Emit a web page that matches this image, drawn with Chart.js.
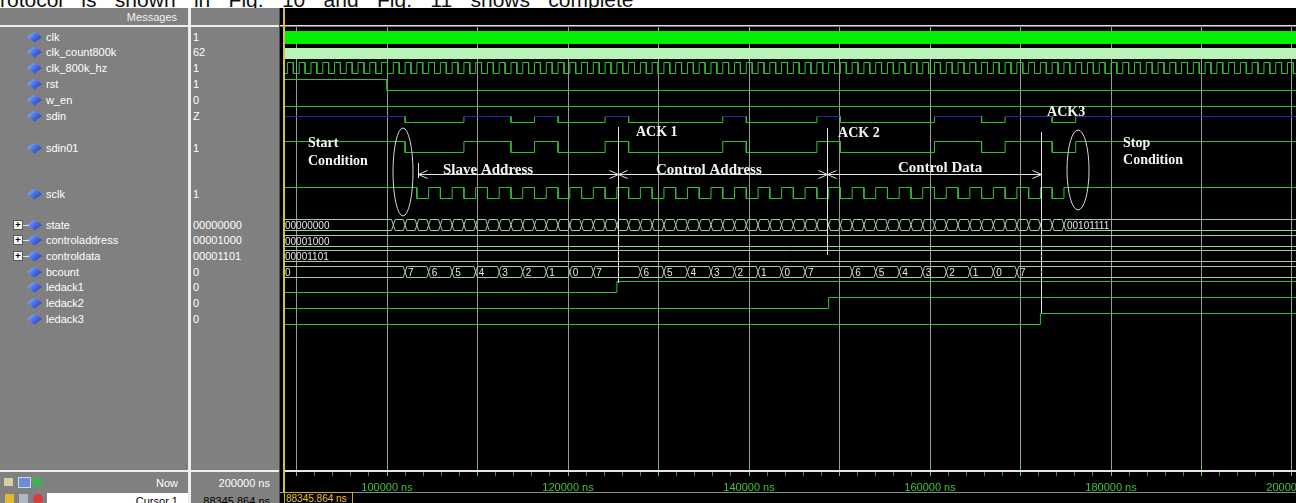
<!DOCTYPE html>
<html>
<head>
<meta charset="utf-8">
<title>I2C write waveform</title>
<script src="https://cdn.jsdelivr.net/npm/chart.js@4.4.1/dist/chart.umd.min.js"></script>
<style>
  html, body { margin: 0; padding: 0; }
  body { width: 1296px; height: 503px; position: relative; overflow: hidden; background: #fff;
         font-family: 'Liberation Sans', Arial, sans-serif; }
  .abs { position: absolute; }
  #caption { left: 0; top: -11px; font-size: 21px; line-height: 21px; word-spacing: 12.5px; color: #111; white-space: nowrap; }
  #names { left: 0; top: 8px; width: 188px; height: 495px; background: #808080; }
  #div1 { left: 188px; top: 8px; width: 3px; height: 495px; background: #eeeeee; }
  #values { left: 191px; top: 8px; width: 88px; height: 495px; background: #808080; }
  #div2 { left: 279px; top: 8px; width: 1px; height: 495px; background: #505050; }
  #wave { left: 280px; top: 8px; width: 1016px; height: 495px; background: #000; }
  #c { position: absolute; left: 285px; top: 27px; }
  .txt { position: absolute; font-size: 11px; line-height: 14px; color: #fff; white-space: nowrap; }
  .diamond { position: absolute; width: 15px; height: 11px;
             clip-path: polygon(50% 0, 100% 50%, 50% 100%, 0 50%);
             background: linear-gradient(135deg, #a8c4ff 0%, #4a72e8 45%, #1a34a8 100%); }
  .plus { position: absolute; width: 8px; height: 8px; background: #f4f4f4; border: 1px solid #5a5a5a;
          font-size: 9px; line-height: 8px; text-align: center; color: #000; font-weight: bold; }
  .stub { position: absolute; width: 6px; height: 1px; background: #dcdcdc; }
</style>
</head>
<body>
<div id="caption" class="abs">rotocol is shown in Fig. 10 and Fig. 11 shows complete</div>
<div id="names" class="abs"></div>
<div id="div1" class="abs"></div>
<div id="values" class="abs"></div>
<div id="div2" class="abs"></div>
<div id="wave" class="abs"></div>
<div id="chrome"></div>
<canvas id="c" width="1011" height="466"></canvas>
<script>
// ---- data (times in ns) ----
const timeMin = 88729;
const timeMax = 200442;
const nowTime = '200000 ns';
const cursorTime = '88345.864 ns';
const labelTicks = [100000, 120000, 140000, 160000, 180000, 200000];
const gridStep = 10000;
const minorStep = 2000;

const signalNames = ['clk', 'clk_count800k', 'clk_800k_hz', 'rst', 'w_en', 'sdin', 'sdin01', 'sclk',
  'state', 'controladdress', 'controldata', 'bcount', 'ledack1', 'ledack2', 'ledack3'];
const cursorValues = ['1', '62', '1', '1', '0', 'Z', '1', '1',
  '00000000', '00001000', '00001101', '0', '0', '0', '0'];
const expandable = ['state', 'controladdress', 'controldata'];

// clk_800k_hz, one character per half period
const clk800kStart = 88350;
const clk800kStep = 650;
const clk800kLevels =
  '01010101010101010101' + '01010101010101010101' + '01010101010101010101' + '01010101010101010101' +
  '01010101010101010101' + '01010101010101010101' + '01010101010101010101' + '01010101010101010101' +
  '01010101010101';

// sclk, idle high, then one character per half period
const sclkStart = 103300;
const sclkStep = 1300;
const sclkLevels = '01010101010101010101' + '01010101010101010101' + '0101010101010101';

// [time, level]; 'z' = high impedance
const rstEdges = [[88000, 1], [100000, 0]];
const wenEdges = [[88000, 0]];
const sdinEdges = [[88000, 'z'], [102000, 0], [108500, 'z'], [113700, 0], [116300, 'z'], [118900, 0],
  [124100, 'z'], [126700, 0], [137100, 'z'], [139700, 0], [147500, 'z'], [150100, 0],
  [160500, 'z'], [165700, 0], [168300, 'z'], [173500, 0], [176100, 'z']];
const sdin01Edges = [[88000, 1], [102000, 0], [108500, 1], [113700, 0], [116300, 1], [118900, 0],
  [124100, 1], [126700, 0], [137100, 1], [139700, 0], [147500, 1], [150100, 0],
  [160500, 1], [165700, 0], [168300, 1], [173500, 0], [176100, 1]];
const ledack1Edges = [[88000, 0], [125400, 1]];
const ledack2Edges = [[88000, 0], [148800, 1]];
const ledack3Edges = [[88000, 0], [172200, 1]];

const stateTimes = [100700, 102000, 103300, 104600, 105900, 107200, 108500, 109800, 111100, 112400,
  113700, 115000, 116300, 117600, 118900, 120200, 121500, 122800, 124100, 125400, 126700, 128000,
  129300, 130600, 131900, 133200, 134500, 135800, 137100, 138400, 139700, 141000, 142300, 143600,
  144900, 146200, 147500, 148800, 150100, 151400, 152700, 154000, 155300, 156600, 157900, 159200,
  160500, 161800, 163100, 164400, 165700, 167000, 168300, 169600, 170900, 172200, 173500, 174800];
const stateFirst = '00000000';
const stateLast = '00101111';
const controlAddress = '00001000';
const controlData = '00001101';
const bcountEdges = [[88000, '0'], [102000, '7'], [104600, '6'], [107200, '5'], [109800, '4'],
  [112400, '3'], [115000, '2'], [117600, '1'], [120200, '0'], [122800, '7'], [128000, '6'],
  [130600, '5'], [133200, '4'], [135800, '3'], [138400, '2'], [141000, '1'], [143600, '0'],
  [146200, '7'], [151400, '6'], [154000, '5'], [156600, '4'], [159200, '3'], [161800, '2'],
  [164400, '1'], [167000, '0'], [169600, '7']];

const ackTimes = [125500, 148600, 172300];
const fieldNames = ['Slave Address', 'Control Address', 'Control Data'];
const fieldStarts = [103400, 125500, 148600];
const fieldEnds = [125500, 148600, 172300];

// ---- layout (image pixel rows; the y scale runs in image pixels) ----
const rowY = [37.5, 53.5, 68, 85, 101, 117, 147, 193, 225, 241, 256, 272, 287, 303, 319];
const nameY = [37, 52, 68, 84, 100, 116, 148, 194, 225, 240, 256, 272, 287, 303, 319];
const HALF = 5.5;
const CROSS = 200;
const GREEN = '#33c133';
const BUS = '#a4cca4';
const ZBLUE = '#2424b0';
const ackSpans = [[127, 283], [128, 255], [132, 313]];
const arrowY = 174.5;
const ellipses = [{t: 101768, y: 172, rx: 10, ry: 44}, {t: 176356, y: 170, rx: 11, ry: 40}];
const notes = [
  ['Start', 91270, 143], ['Condition', 91270, 161],
  ['ACK 1', 127515, 132], ['ACK 2', 149836, 133], ['ACK3', 172930, 112],
  ['Stop', 181330, 143], ['Condition', 181330, 160]
];
const fieldTextX = [106190, 129725, 156466];
const fieldTextY = [170, 170, 168];

// ---- panel text ----
const chrome = document.getElementById('chrome');
function put(html, css, cls) {
  const d = document.createElement('div');
  d.className = cls || 'txt';
  d.innerHTML = html;
  Object.assign(d.style, css);
  chrome.appendChild(d);
  return d;
}
put('Messages', {left: '0px', width: '177px', textAlign: 'right', top: '10px', color: '#f2f2f2'});
put('', {left: '0px', top: '25px', width: '279px', height: '2px', background: '#eeeeee'}, 'abs');
put('', {left: '280px', top: '25px', width: '1016px', height: '1px', background: '#e0e0e0'}, 'abs');
put('', {left: '280px', top: '26px', width: '1016px', height: '1px', background: '#707070'}, 'abs');
signalNames.forEach((name, i) => {
  const y = nameY[i];
  put('', {left: '27px', top: (y - 5.5) + 'px'}, 'diamond');
  if (expandable.includes(name)) {
    put('+', {left: '13px', top: (y - 5) + 'px'}, 'plus');
    put('', {left: '23px', top: y + 'px'}, 'stub');
  }
  put(name, {left: '46px', top: (y - 7) + 'px'});
  put(cursorValues[i], {left: '193px', top: (y - 7) + 'px'});
});
// bottom rows
put('', {left: '0px', top: '470px', width: '279px', height: '2px', background: '#eeeeee'}, 'abs');
put('', {left: '280px', top: '492px', width: '1016px', height: '1px', background: '#8a8a8a'}, 'abs');
put('Now', {left: '0px', width: '178px', textAlign: 'right', top: '476px'});
put(nowTime, {left: '191px', width: '79px', textAlign: 'right', top: '476px'});
put('', {left: '47px', top: '493px', width: '141px', height: '10px', background: '#ffffff'}, 'abs');
put('Cursor 1', {left: '0px', width: '178px', textAlign: 'right', top: '494px', color: '#000'});
put(cursorTime, {left: '191px', width: '79px', textAlign: 'right', top: '494px', color: '#000'});
put('', {left: '4px', top: '478px', width: '9px', height: '8px', background: '#d8d0a0'}, 'abs');
put('', {left: '18px', top: '477px', width: '11px', height: '9px', background: '#6a8ed8', border: '1px solid #c8d8f8'}, 'abs');
put('', {left: '32px', top: '477px', width: '10px', height: '10px', background: '#3cb44c', borderRadius: '50%'}, 'abs');
put('', {left: '5px', top: '494px', width: '9px', height: '9px', background: '#e0b830'}, 'abs');
put('', {left: '19px', top: '494px', width: '9px', height: '9px', background: '#b0b8c8'}, 'abs');
put('', {left: '33px', top: '494px', width: '10px', height: '10px', background: '#e03a3a', borderRadius: '50%'}, 'abs');
// cursor
put('', {left: '283px', top: '8px', width: '2px', height: '485px', background: '#d8c048'}, 'abs');
put(cursorTime, {left: '284px', top: '492px', width: '66px', height: '11px', fontSize: '10px', lineHeight: '11px',
  color: '#e8c040', border: '1px solid #c8a838', paddingLeft: '1px'});

// ---- build datasets ----
function levelEdges(start, step, levels, idle) {
  const edges = [[88000, idle]];
  let last = idle;
  for (let i = 0; i < levels.length; i++) {
    const v = +levels[i];
    if (v !== last) { edges.push([start + i * step, v]); last = v; }
  }
  return edges;
}
function levelY(v, row) {
  if (v === 'z') return row - 0.5;
  return v ? row - HALF : row + HALF;
}
function logicPoints(edges, row) {
  const pts = [];
  edges.forEach(([t, v], i) => {
    if (i > 0) pts.push({x: t, y: levelY(edges[i - 1][1], row)});
    pts.push({x: t, y: levelY(v, row)});
  });
  pts.push({x: timeMax + 1000, y: levelY(edges[edges.length - 1][1], row)});
  return pts;
}
function busLines(times, row) {
  let ya = row - HALF, yb = row + HALF;
  const a = [{x: 88000, y: ya}], b = [{x: 88000, y: yb}];
  times.forEach(t => {
    a.push({x: t - CROSS, y: ya}, {x: t + CROSS, y: yb});
    b.push({x: t - CROSS, y: yb}, {x: t + CROSS, y: ya});
    [ya, yb] = [yb, ya];
  });
  a.push({x: timeMax + 1000, y: ya});
  b.push({x: timeMax + 1000, y: yb});
  return [a, b];
}
const row = name => rowY[signalNames.indexOf(name)];

const datasets = [];
function addLine(data, color, width, extra) {
  datasets.push(Object.assign({data, borderColor: color, borderWidth: width || 1}, extra || {}));
}
addLine([{x: timeMin, y: row('clk')}, {x: timeMax, y: row('clk')}], '#00f000', 13);
addLine([{x: timeMin, y: row('clk_count800k')}, {x: timeMax, y: row('clk_count800k')}], '#b8f4b8', 11);
addLine(logicPoints(levelEdges(clk800kStart, clk800kStep, clk800kLevels, 0), row('clk_800k_hz')), GREEN);
addLine(logicPoints(rstEdges, row('rst')), GREEN);
addLine(logicPoints(wenEdges, row('w_en')), GREEN);
const zY = row('sdin') - 0.5;
addLine(logicPoints(sdinEdges, row('sdin')), GREEN, 1, {
  segment: {borderColor: c => (c.p0.parsed.y === zY && c.p1.parsed.y === zY) ? ZBLUE : GREEN}
});
addLine(logicPoints(sdin01Edges, row('sdin01')), GREEN);
addLine(logicPoints(levelEdges(sclkStart, sclkStep, sclkLevels, 1), row('sclk')), GREEN);
busLines(stateTimes, row('state')).forEach(d => addLine(d, BUS));
busLines([], row('controladdress')).forEach(d => addLine(d, BUS));
busLines([], row('controldata')).forEach(d => addLine(d, BUS));
busLines(bcountEdges.slice(1).map(e => e[0]), row('bcount')).forEach(d => addLine(d, BUS));
addLine(logicPoints(ledack1Edges, row('ledack1')), GREEN);
addLine(logicPoints(ledack2Edges, row('ledack2')), GREEN);
addLine(logicPoints(ledack3Edges, row('ledack3')), GREEN);

const busLabels = [
  {row: row('state'), items: [[timeMin, stateFirst], [stateTimes[stateTimes.length - 1], stateLast]]},
  {row: row('controladdress'), items: [[timeMin, controlAddress]]},
  {row: row('controldata'), items: [[timeMin, controlData]]},
  {row: row('bcount'), items: bcountEdges.map(([t, v], i) => [i === 0 ? timeMin : t, v])}
];

const busText = {
  id: 'busText',
  afterDatasetsDraw(chart) {
    const {ctx, chartArea: a, scales: {x, y}} = chart;
    ctx.save();
    ctx.beginPath();
    ctx.rect(a.left, a.top, a.right - a.left, a.bottom - a.top);
    ctx.clip();
    ctx.font = '10px "Liberation Sans", Arial, sans-serif';
    ctx.fillStyle = '#e6e6e6';
    ctx.textBaseline = 'middle';
    busLabels.forEach(({row, items}) => {
      items.forEach(([t, text]) => {
        const px = t <= timeMin ? a.left : x.getPixelForValue(t) + 3;
        ctx.fillText(text, px, y.getPixelForValue(row) + 1);
      });
    });
    ctx.restore();
  }
};

const annotate = {
  id: 'annotate',
  afterDatasetsDraw(chart) {
    const {ctx, scales: {x, y}} = chart;
    const X = t => Math.round(x.getPixelForValue(t)) + 0.5;
    const Y = v => y.getPixelForValue(v);
    ctx.save();
    ctx.strokeStyle = '#e6e6e6';
    ctx.lineWidth = 1;
    ackTimes.forEach((t, i) => {
      ctx.beginPath();
      ctx.moveTo(X(t), Y(ackSpans[i][0]));
      ctx.lineTo(X(t), Y(ackSpans[i][1]));
      ctx.stroke();
    });
    const ay = Y(arrowY);
    fieldStarts.forEach((t0, i) => {
      const x0 = X(t0), x1 = X(fieldEnds[i]);
      ctx.beginPath();
      ctx.moveTo(x0, ay); ctx.lineTo(x1, ay);
      ctx.moveTo(x0 + 9, ay - 4); ctx.lineTo(x0, ay); ctx.lineTo(x0 + 9, ay + 4);
      ctx.moveTo(x1 - 9, ay - 4); ctx.lineTo(x1, ay); ctx.lineTo(x1 - 9, ay + 4);
      ctx.stroke();
    });
    ctx.beginPath();
    ctx.moveTo(X(fieldStarts[0]), Y(163)); ctx.lineTo(X(fieldStarts[0]), Y(178));
    ctx.stroke();
    ctx.strokeStyle = '#d8d8d8';
    ellipses.forEach(e => {
      ctx.beginPath();
      ctx.ellipse(x.getPixelForValue(e.t), Y(e.y), e.rx, e.ry, 0, 0, Math.PI * 2);
      ctx.stroke();
    });
    ctx.fillStyle = '#f4f4f4';
    ctx.textBaseline = 'middle';
    ctx.font = 'bold 14px "Liberation Serif", "Times New Roman", serif';
    notes.forEach(([text, t, v]) => ctx.fillText(text, x.getPixelForValue(t), Y(v)));
    ctx.font = 'bold 15px "Liberation Serif", "Times New Roman", serif';
    fieldNames.forEach((text, i) => ctx.fillText(text, x.getPixelForValue(fieldTextX[i]), Y(fieldTextY[i])));
    ctx.restore();
  }
};

new Chart(document.getElementById('c').getContext('2d'), {
  type: 'line',
  data: {datasets},
  plugins: [busText, annotate],
  options: {
    responsive: false,
    animation: false,
    events: [],
    layout: {padding: 0},
    elements: {point: {radius: 0}, line: {tension: 0, fill: false, borderCapStyle: 'butt'}},
    plugins: {legend: {display: false}, tooltip: {enabled: false}},
    scales: {
      x: {
        type: 'linear',
        position: 'bottom',
        min: timeMin,
        max: timeMax,
        afterBuildTicks(s) {
          const ticks = [];
          const first = Math.ceil(timeMin / minorStep) * minorStep;
          for (let v = first; v <= timeMax; v += minorStep) ticks.push({value: v});
          s.ticks = ticks;
        },
        afterFit(s) { s.height = 22; s.paddingLeft = 0; s.paddingRight = 0; },
        ticks: {
          autoSkip: false,
          maxRotation: 0,
          minRotation: 0,
          padding: 5,
          color: '#3cc23c',
          font: {family: '"Liberation Sans", Arial, sans-serif', size: 11},
          callback: v => (labelTicks.includes(v) ? v + ' ns' : '')
        },
        grid: {
          color: c => (c.tick && c.tick.value % gridStep === 0 ? '#9a9a9a' : 'rgba(0,0,0,0)'),
          lineWidth: 1,
          tickLength: 5,
          tickColor: c => (c.tick && c.tick.value % gridStep === 0 ? '#44e044' : '#2e9e2e'),
          tickWidth: 1
        },
        border: {display: true, color: '#e6e6e6', width: 2}
      },
      y: {type: 'linear', display: false, min: 27, max: 471, reverse: true}
    }
  }
});
</script>
</body>
</html>
